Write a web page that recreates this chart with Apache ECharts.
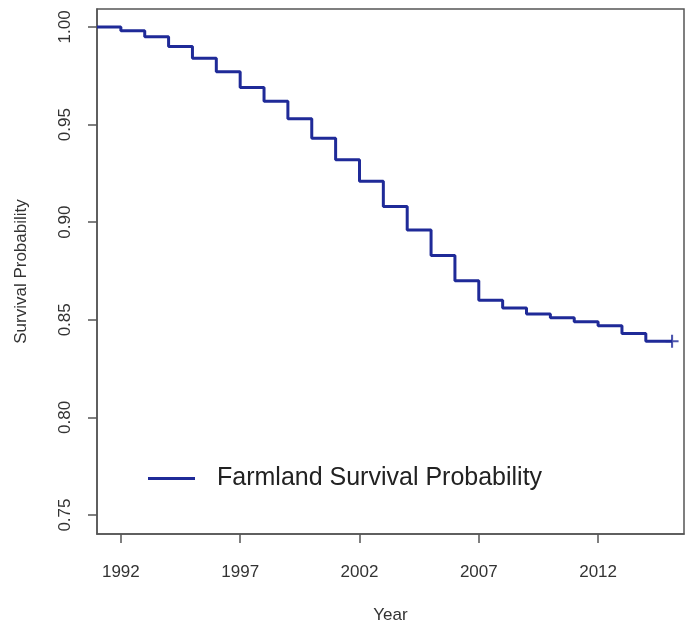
<!DOCTYPE html>
<html>
<head>
<meta charset="utf-8">
<script src="https://cdn.jsdelivr.net/npm/echarts@6/dist/echarts.min.js"></script>
<style>
  html, body { margin: 0; padding: 0; background: #fff; }
  #main { width: 685px; height: 624px; }
</style>
</head>
<body>
<div id="main"></div>
<script>
// step start years and survival value from that year on
let years = [1991, 1992, 1993, 1994, 1995, 1996, 1997, 1998, 1999, 2000, 2001, 2002,
             2003, 2004, 2005, 2006, 2007, 2008, 2009, 2010, 2011, 2012, 2013, 2014, 2015.1];
let survival = [1.000, 0.998, 0.995, 0.990, 0.984, 0.977, 0.969, 0.962, 0.953, 0.943, 0.932, 0.921,
                0.908, 0.896, 0.883, 0.870, 0.860, 0.856, 0.853, 0.851, 0.849, 0.847, 0.843, 0.839, 0.839];
let censorYears = [2015.1];
let censorValues = [0.839];
let xTicks = [1992, 1997, 2002, 2007, 2012];
let yTicks = [0.75, 0.80, 0.85, 0.90, 0.95, 1.00];
let seriesName = 'Farmland Survival Probability';

const lineColor = '#1f2a98';
const axisColor = '#555';
const font = 'Liberation Sans, Arial, sans-serif';

let plot = echarts.init(document.querySelector('#main'));

const option = {
    backgroundColor: '#fff',
    animation: false,
    grid: {
        left: 97, right: 1, top: 9, bottom: 90,
        outerBoundsMode: 'none',
        containLabel: false,
        show: true,
        borderColor: axisColor,
        borderWidth: 1.5
    },
    legend: {
        data: [seriesName],
        left: 143,
        top: 461,
        icon: 'rect',
        itemWidth: 47,
        itemHeight: 3,
        textStyle: {
            fontFamily: font,
            fontSize: 25,
            color: '#222',
            padding: [0, 0, 0, 17]
        }
    },
    xAxis: {
        type: 'value',
        min: 1991,
        max: 2015.6,
        name: 'Year',
        nameLocation: 'middle',
        nameGap: 73,
        nameTextStyle: { fontFamily: font, fontSize: 17, color: '#333' },
        axisLine: { show: true, lineStyle: { color: axisColor, width: 1.5 } },
        axisTick: { show: true, length: 9, customValues: xTicks, lineStyle: { color: axisColor, width: 1.5 } },
        axisLabel: {
            customValues: xTicks,
            margin: 30,
            fontFamily: font, fontSize: 17, color: '#333',
            formatter: v => String(v)
        },
        splitLine: { show: false }
    },
    yAxis: {
        type: 'value',
        min: 0.7403,
        max: 1.0092,
        name: 'Survival Probability',
        nameLocation: 'middle',
        nameGap: 67,
        nameTextStyle: { fontFamily: font, fontSize: 17, color: '#333' },
        axisLine: { show: true, lineStyle: { color: axisColor, width: 1.5 } },
        axisTick: { show: true, length: 9, customValues: yTicks, lineStyle: { color: axisColor, width: 1.5 } },
        axisLabel: {
            customValues: yTicks,
            rotate: 90,
            margin: 23,
            fontFamily: font, fontSize: 17, color: '#333',
            formatter: v => v.toFixed(2)
        },
        splitLine: { show: false }
    },
    series: [{
        name: seriesName,
        type: 'line',
        step: 'end',
        showSymbol: false,
        symbol: 'none',
        color: lineColor,
        lineStyle: { color: lineColor, width: 3 },
        data: years.map((y, i) => [y, survival[i]])
    }, {
        name: 'censored',
        type: 'scatter',
        symbol: 'path://M4.2,0H5.8V4.2H10V5.8H5.8V10H4.2V5.8H0V4.2H4.2Z',
        symbolSize: 13,
        itemStyle: { color: lineColor },
        data: censorYears.map((y, i) => [y, censorValues[i]])
    }]
};

plot.setOption(option);
</script>
</body>
</html>
